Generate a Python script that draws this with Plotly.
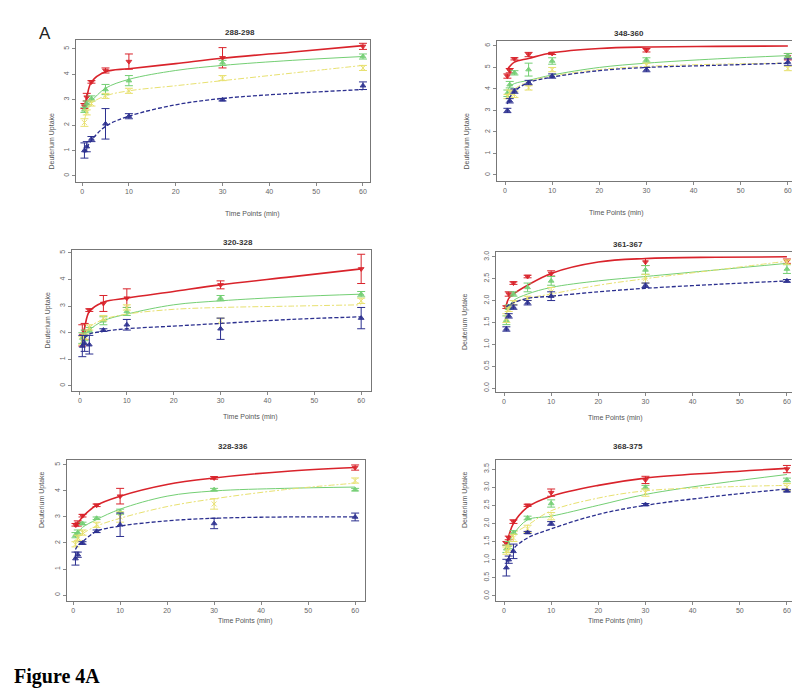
import plotly.graph_objects as go

# time points of the HDX experiment (min)
TIME = [0.5, 1, 2, 5, 10, 30, 60]
FIT_TIME = [0.5, 1, 2, 5, 10, 20, 30, 45, 60]

PANEL_TITLES = ["288-298", "348-360", "320-328", "361-367", "328-336", "368-375"]
Y_TICKS = [
    [0, 1, 2, 3, 4, 5],
    [0, 1, 2, 3, 4, 5, 6],
    [0, 1, 2, 3, 4, 5],
    [0.0, 0.5, 1.0, 1.5, 2.0, 2.5, 3.0],
    [0, 1, 2, 3, 4, 5],
    [0.0, 0.5, 1.0, 1.5, 2.0, 2.5, 3.0, 3.5],
]
Y_TICK_TEXT = [
    ["0", "1", "2", "3", "4", "5"],
    ["0", "1", "2", "3", "4", "5", "6"],
    ["0", "1", "2", "3", "4", "5"],
    ["0.0", "0.5", "1.0", "1.5", "2.0", "2.5", "3.0"],
    ["0", "1", "2", "3", "4", "5"],
    ["0.0", "0.5", "1.0", "1.5", "2.0", "2.5", "3.0", "3.5"],
]

# measured means, one row per panel
RED_MEAN = [
    [2.75, 3.1, 3.7, 4.15, 4.5, 4.65, 5.1],
    [4.6, 4.85, 5.4, 5.6, 5.65, 5.8, 5.5],
    [1.9, 2.05, 2.85, 3.1, 3.3, 3.8, 4.4],
    [1.85, 2.15, 2.4, 2.55, 2.62, 2.88, 2.9],
    [2.7, 2.75, 3.05, 3.45, 3.8, 4.5, 4.9],
    [1.45, 1.6, 2.05, 2.5, 2.85, 3.2, 3.5],
]
RED_ERR = [
    [0.1, 0.15, 0.05, 0.1, 0.3, 0.4, 0.12],
    [0.1, 0.1, 0.05, 0.1, 0.05, 0.08, 0.15],
    [0.4, 0.3, 0.05, 0.3, 0.35, 0.15, 0.55],
    [0.03, 0.05, 0.03, 0.03, 0.06, 0.08, 0.05],
    [0.05, 0.1, 0.05, 0.05, 0.3, 0.05, 0.1],
    [0.05, 0.05, 0.05, 0.03, 0.1, 0.1, 0.1],
]
GREEN_MEAN = [
    [2.6, 2.85, 3.05, 3.4, 3.75, 4.45, 4.7],
    [3.8, 4.2, 4.75, 4.9, 5.3, 5.35, 5.55],
    [1.8, 1.9, 2.1, 2.45, 2.8, 3.3, 3.45],
    [1.55, 1.85, 2.15, 2.3, 2.45, 2.7, 2.72],
    [2.3, 2.4, 2.75, 2.95, 3.2, 4.05, 4.05],
    [1.3, 1.4, 1.75, 2.15, 2.55, 3.0, 3.2],
]
GREEN_ERR = [
    [0.1, 0.1, 0.1, 0.2, 0.2, 0.1, 0.1],
    [0.15, 0.15, 0.1, 0.3, 0.15, 0.1, 0.1],
    [0.2, 0.2, 0.1, 0.15, 0.15, 0.1, 0.1],
    [0.1, 0.05, 0.05, 0.1, 0.1, 0.1, 0.1],
    [0.1, 0.1, 0.05, 0.05, 0.1, 0.05, 0.05],
    [0.1, 0.1, 0.05, 0.05, 0.1, 0.05, 0.05],
]
YELLOW_MEAN = [
    [2.1, 2.5, 2.85, 3.15, 3.35, 3.85, 4.25],
    [3.65, 3.85, 3.75, 4.05, 4.9, 5.1, 4.95],
    [1.7, 1.85, 2.2, 2.55, 2.95, 2.45, 3.2],
    [1.6, 1.8, 1.95, 2.05, 2.2, 2.5, 2.88],
    [1.95, 2.2, 2.4, 2.7, 3.0, 3.5, 4.4],
    [1.25, 1.3, 1.6, 1.85, 2.2, 2.85, 3.0],
]
YELLOW_ERR = [
    [0.15, 0.1, 0.1, 0.1, 0.1, 0.1, 0.1],
    [0.1, 0.1, 0.15, 0.1, 0.1, 0.1, 0.1],
    [0.15, 0.1, 0.1, 0.1, 0.1, 0.1, 0.1],
    [0.1, 0.05, 0.05, 0.05, 0.1, 0.1, 0.05],
    [0.1, 0.1, 0.1, 0.1, 0.2, 0.2, 0.1],
    [0.1, 0.1, 0.1, 0.1, 0.1, 0.1, 0.1],
]
BLUE_MEAN = [
    [1.0, 1.15, 1.45, 2.05, 2.35, 3.0, 3.55],
    [3.0, 3.45, 3.9, 4.3, 4.6, 4.9, 5.25],
    [1.5, 1.6, 1.55, 2.1, 2.3, 2.15, 2.55],
    [1.35, 1.65, 1.85, 1.95, 2.1, 2.35, 2.45],
    [1.4, 1.55, 2.0, 2.45, 2.7, 2.75, 3.0],
    [0.78, 1.0, 1.23, 1.75, 2.0, 2.52, 2.9],
]
BLUE_ERR = [
    [0.3, 0.2, 0.1, 0.6, 0.1, 0.05, 0.15],
    [0.1, 0.1, 0.1, 0.1, 0.1, 0.1, 0.15],
    [0.4, 0.3, 0.35, 0.05, 0.2, 0.4, 0.4],
    [0.05, 0.05, 0.05, 0.05, 0.1, 0.05, 0.03],
    [0.25, 0.1, 0.05, 0.05, 0.45, 0.2, 0.15],
    [0.23, 0.1, 0.2, 0.03, 0.05, 0.03, 0.03],
]

# fitted uptake curves read at FIT_TIME
RED_FIT = [
    [2.75, 3.1, 3.7, 4.1, 4.22, 4.42, 4.63, 4.88, 5.13],
    [4.9, 5.05, 5.25, 5.42, 5.68, 5.88, 5.95, 5.98, 6.0],
    [1.9, 2.2, 2.8, 3.15, 3.3, 3.55, 3.8, 4.1, 4.4],
    [1.9, 2.05, 2.15, 2.35, 2.62, 2.88, 2.96, 2.99, 3.0],
    [2.6, 2.75, 3.0, 3.45, 3.8, 4.25, 4.5, 4.75, 4.9],
    [1.4, 1.65, 2.0, 2.45, 2.75, 3.05, 3.25, 3.4, 3.52],
]
GREEN_FIT = [
    [2.6, 2.75, 2.95, 3.45, 3.8, 4.15, 4.35, 4.55, 4.7],
    [3.9, 4.1, 4.25, 4.4, 4.65, 5.0, 5.2, 5.4, 5.55],
    [1.8, 1.9, 2.1, 2.45, 2.7, 3.05, 3.2, 3.35, 3.45],
    [1.7, 1.85, 2.0, 2.15, 2.3, 2.45, 2.55, 2.7, 2.85],
    [2.3, 2.4, 2.6, 2.9, 3.3, 3.8, 4.0, 4.1, 4.15],
    [1.3, 1.45, 1.7, 2.1, 2.2, 2.5, 2.8, 3.1, 3.35],
]
YELLOW_FIT = [
    [2.2, 2.5, 2.85, 3.15, 3.35, 3.55, 3.75, 4.05, 4.35],
    [3.6, 3.8, 4.0, 4.35, 4.6, 4.9, 5.05, 5.15, 5.2],
    [1.75, 1.9, 2.2, 2.5, 2.7, 2.88, 2.95, 3.0, 3.05],
    [1.7, 1.85, 1.95, 2.05, 2.15, 2.35, 2.5, 2.7, 2.9],
    [2.0, 2.15, 2.35, 2.65, 2.95, 3.4, 3.7, 4.05, 4.3],
    [1.3, 1.45, 1.7, 1.95, 2.35, 2.7, 2.9, 3.0, 3.05],
]
BLUE_FIT = [
    [0.9, 1.1, 1.4, 1.95, 2.35, 2.8, 3.05, 3.25, 3.4],
    [3.3, 3.6, 3.9, 4.3, 4.55, 4.85, 5.0, 5.1, 5.2],
    [1.6, 1.8, 1.95, 2.05, 2.15, 2.25, 2.35, 2.5, 2.6],
    [1.85, 1.9, 1.95, 2.05, 2.1, 2.2, 2.28, 2.37, 2.45],
    [1.75, 1.9, 2.05, 2.45, 2.65, 2.85, 2.95, 3.0, 3.0],
    [0.9, 1.05, 1.3, 1.6, 1.85, 2.25, 2.5, 2.75, 2.95],
]

W, H = 800, 694
# plot boxes in pixels: left, right, top, bottom
BOXES = [
    (68, 362, 32, 174), (489, 786, 33, 173),
    (64, 363, 242, 383), (488, 786, 244, 384),
    (59, 357, 452, 593), (488, 786, 452, 593),
]
X_RANGES = [(-1.3, 61.5), (-1.7, 61.3), (-1.7, 62.1), (-1.7, 61.5), (-1.3, 62.1), (-1.7, 61.5)]
Y_RANGES = [(-0.24, 5.35), (-0.28, 6.23), (-0.19, 5.11), (-0.09, 3.11), (-0.23, 5.19), (-0.14, 3.75)]

series = [
    ("red", RED_MEAN, RED_ERR, RED_FIT, "#d9232b", "solid", 1.6, "triangle-down"),
    ("green", GREEN_MEAN, GREEN_ERR, GREEN_FIT, "#74cf74", "solid", 1.0, "triangle-up"),
    ("yellow", YELLOW_MEAN, YELLOW_ERR, YELLOW_FIT, "#e8e170", "6px,2px,2px,2px", 1.0, "x-thin"),
    ("blue", BLUE_MEAN, BLUE_ERR, BLUE_FIT, "#2b2f8f", "4px,2px", 1.3, "triangle-up"),
]

fig = go.Figure()
tick_font = dict(family="Liberation Sans, Arial", size=7, color="#666666")
annotations = []

for p in range(6):
    l, r, t, b = BOXES[p]
    sfx = "" if p == 0 else str(p + 1)
    xa, ya = "x" + sfx, "y" + sfx
    fig.layout["xaxis" + sfx] = dict(
        domain=[l / W, r / W], anchor=ya, range=list(X_RANGES[p]),
        tickvals=[0, 10, 20, 30, 40, 50, 60], ticks="outside", ticklen=3,
        tickcolor="#888", tickfont=tick_font, showgrid=False, zeroline=False,
        showline=True, linecolor="#777", linewidth=1, mirror=True,
    )
    fig.layout["yaxis" + sfx] = dict(
        domain=[1 - b / H, 1 - t / H], anchor=xa, range=list(Y_RANGES[p]),
        tickvals=Y_TICKS[p], ticktext=Y_TICK_TEXT[p], tickangle=-90,
        ticks="outside", ticklen=3, tickcolor="#888", tickfont=tick_font,
        showgrid=False, zeroline=False, showline=True, linecolor="#777",
        linewidth=1, mirror=True,
    )
    for name, mean, err, fit, col, dash, lw, sym in series:
        fig.add_trace(go.Scatter(
            x=FIT_TIME, y=fit[p], mode="lines", line_shape="spline",
            line=dict(color=col, dash=dash, width=lw),
            xaxis=xa, yaxis=ya, showlegend=False, hoverinfo="skip",
        ))
        fig.add_trace(go.Scatter(
            x=TIME, y=mean[p], mode="markers",
            marker=dict(symbol=sym, size=5, color=col, opacity=0.9,
                        line=dict(color=col, width=1)),
            error_y=dict(type="data", array=err[p], color=col, thickness=1, width=4),
            xaxis=xa, yaxis=ya, showlegend=False, name=name,
        ))
    cx = (l + r) / 2 / W
    annotations.append(dict(
        text="<b>" + PANEL_TITLES[p] + "</b>", x=cx, y=1 - (t - 14) / H,
        xref="paper", yref="paper", showarrow=False,
        font=dict(family="Liberation Sans, Arial", size=8, color="#333"),
    ))
    annotations.append(dict(
        text="Time Points (min)", x=cx, y=1 - (b + 26) / H,
        xref="paper", yref="paper", showarrow=False,
        font=dict(family="Liberation Sans, Arial", size=7, color="#555"),
    ))
    annotations.append(dict(
        text="Deuterium Uptake", x=(l - 31) / W, y=1 - (t + b) / 2 / H,
        xref="paper", yref="paper", showarrow=False, textangle=-90,
        font=dict(family="Liberation Sans, Arial", size=7, color="#555"),
    ))

annotations.append(dict(
    text="A", x=29 / W, y=1 - 14 / H, xref="paper", yref="paper", showarrow=False,
    font=dict(family="Liberation Sans, Arial", size=17, color="#222"),
))
annotations.append(dict(
    text="<b>Figure 4A</b>", x=4 / W, y=1 - 682 / H, xref="paper", yref="paper",
    xanchor="left", showarrow=False,
    font=dict(family="Liberation Serif, Times New Roman", size=20, color="#000"),
))

fig.update_layout(
    width=W, height=H, margin=dict(l=0, r=0, t=0, b=0),
    paper_bgcolor="white", plot_bgcolor="white", annotations=annotations,
)

fig.write_html("out.html")
